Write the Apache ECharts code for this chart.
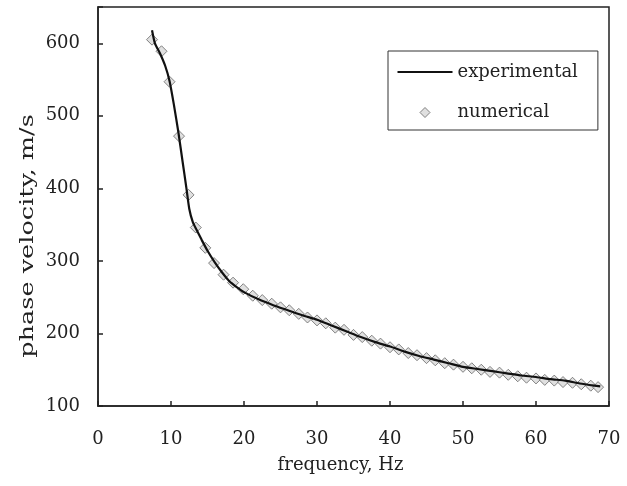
<!DOCTYPE html>
<html>
<head>
<meta charset="utf-8">
<script src="https://cdn.jsdelivr.net/npm/echarts@6/dist/echarts.min.js"></script>
<style>html,body{margin:0;padding:0;background:#fff}#c{width:627px;height:486px}</style>
</head>
<body>
<div id="c"></div>
<script>
// experimental curve: [frequency Hz, phase velocity m/s]
var experimental = [
  [7.4,618],[7.8,600],[8.5,586],[9.2,569],[9.8,548],[10.4,515],[11.0,478],[11.6,436],
  [12.1,401],[12.5,372],[13.0,353],[13.5,343],[14.2,329],[15.0,314],[16.0,298],[17.0,284],
  [18.0,272],[19.0,264],[20.0,257],[22.0,247],[24.0,239],[26.0,232],[28.0,225],[30.0,219],
  [32.0,211],[34.0,203],[36.0,195],[38.0,188],[40.0,182],[42.0,175],[44.0,169],[46.0,164],
  [48.0,159],[50.0,154],[52.0,151],[54.0,148],[56.0,145],[58.0,142],[60.0,140],[62.0,137],
  [64.0,135],[66.0,131],[68.0,128],[68.8,127]
];
// numerical results
var numerical = [
  [7.4,605],[8.7,589],[9.8,547],[11.1,472],[12.4,391],[13.4,346],[14.7,318],[15.9,297],
  [17.2,281],[18.5,270],[19.9,261],[21.2,252],[22.5,246],[23.8,241],[25.0,236],[26.2,232],
  [27.5,227],[28.7,222],[30.0,218],[31.2,214],[32.5,208],[33.7,205],[35.0,198],[36.2,195],
  [37.5,190],[38.7,186],[40.0,181],[41.2,178],[42.5,173],[43.7,170],[45.0,166],[46.2,163],
  [47.5,159],[48.7,157],[50.0,154],[51.2,152],[52.5,150],[53.7,147],[55.0,146],[56.2,143],
  [57.5,141],[58.7,139],[60.0,138],[61.2,136],[62.5,135],[63.7,133],[65.0,132],[66.2,130],
  [67.5,128],[68.5,126]
];
var xTicks = [0,10,20,30,40,50,60,70];
var yTicks = [100,200,300,400,500,600];
var xTitle = 'frequency, Hz';
var yTitle = 'phase velocity, m/s';

var FONT = 'DejaVu Serif';
var chart = echarts.init(document.getElementById('c'));
chart.setOption({
  animation: false,
  backgroundColor: '#fff',
  grid: { left: 98, right: 18, top: 7, bottom: 80, show: true, borderColor: '#222', borderWidth: 1.5 },
  graphic: [{
    type: 'text', x: 28, y: 236, rotation: Math.PI / 2, scaleX: 1.42,
    style: { text: yTitle, fontFamily: FONT, fontSize: 18, fill: '#222',
      textAlign: 'center', textVerticalAlign: 'middle', align: 'center', verticalAlign: 'middle' }
  }],
  legend: {
    orient: 'vertical', left: 388, top: 51,
    padding: [12, 20, 8, 9], itemGap: 22, itemWidth: 55, itemHeight: 18,
    borderColor: '#333', borderWidth: 1, backgroundColor: '#fff',
    textStyle: { fontFamily: FONT, fontSize: 18, color: '#222' },
    data: [
      { name: 'experimental', icon: 'path://M0,8 L55,8 L55,10.2 L0,10.2 Z', itemStyle: { color: '#111' } },
      { name: 'numerical', icon: 'path://M0,0 M55,18 M27.5,4 L32.5,9 L27.5,14 L22.5,9 Z',
        itemStyle: { color: '#d8d8d8', borderColor: '#666', borderWidth: 1 } }
    ]
  },
  xAxis: {
    type: 'value', min: xTicks[0], max: xTicks[xTicks.length-1], interval: 10,
    name: xTitle, nameLocation: 'middle', nameGap: 50,
    nameTextStyle: { fontFamily: FONT, fontSize: 18, color: '#222', padding: [0, 26, 0, 0] },
    axisLine: { show: true, lineStyle: { color: '#222', width: 1.5 } },
    axisTick: { show: true, inside: true, length: 5, lineStyle: { color: '#222', width: 1.5 } },
    axisLabel: { fontFamily: FONT, fontSize: 18, color: '#222', margin: 24 },
    splitLine: { show: false }
  },
  yAxis: {
    type: 'value', min: yTicks[0], max: 650, interval: 100,
    axisLine: { show: true, lineStyle: { color: '#222', width: 1.5 } },
    axisTick: { show: true, inside: true, length: 5, lineStyle: { color: '#222', width: 1.5 } },
    axisLabel: { fontFamily: FONT, fontSize: 18, color: '#222', margin: 18,
      formatter: function (v) { return yTicks.indexOf(v) >= 0 ? String(v) : ''; } },
    splitLine: { show: false }
  },
  series: [
    { name: 'experimental', type: 'line', data: experimental, symbol: 'none', smooth: 0.2,
      lineStyle: { color: '#111', width: 2.2 }, itemStyle: { color: '#111' } },
    { name: 'numerical', type: 'scatter', data: numerical, symbol: 'diamond', symbolSize: [11, 11],
      itemStyle: { color: '#d8d8d8', borderColor: '#666', borderWidth: 1 } }
  ]
});
</script>
</body>
</html>
